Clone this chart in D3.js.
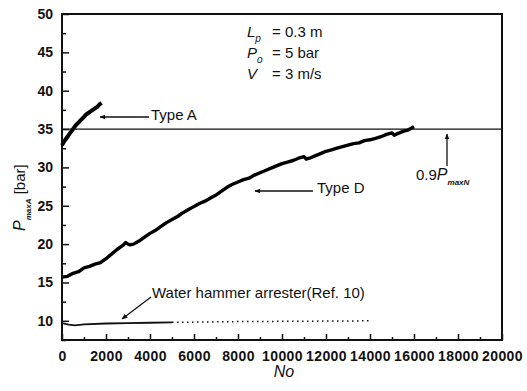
<!DOCTYPE html>
<html>
<head>
<meta charset="utf-8">
<script src="https://cdn.jsdelivr.net/npm/d3@7/dist/d3.min.js"></script>
<style>
  body { margin: 0; background: #fff; }
  svg { display: block; font-family: "Liberation Sans", Arial, sans-serif; }
  .tick text { fill: #111; }
</style>
</head>
<body>
<div id="chart"></div>
<script>
// chart size
var width = 527;
var height = 391;
var margin = { top: 14, right: 25, bottom: 51, left: 62 };

// data
var xTicks = [0, 2000, 4000, 6000, 8000, 10000, 12000, 14000, 16000, 18000, 20000];
var yTicks = [10, 15, 20, 25, 30, 35, 40, 45, 50];

var typeA_N = [0, 100, 200, 300, 400, 500, 600, 700, 800, 900, 1000, 1100, 1200, 1300, 1400, 1500, 1600, 1700, 1800];
var typeA_P = [32.9, 33.4, 33.8, 34.2, 34.6, 35.0, 35.4, 35.7, 36.0, 36.3, 36.6, 36.9, 37.1, 37.3, 37.5, 37.7, 37.9, 38.2, 38.4];

var typeD_N = [0, 250, 500, 750, 1000, 1250, 1500, 1750, 2000, 2250, 2500, 2750, 2900, 3000, 3100, 3250,
  3500, 3750, 4000, 4250, 4500, 4750, 5000, 5250, 5500, 5750, 6000, 6250, 6500, 6750, 7000, 7250,
  7500, 7750, 8000, 8250, 8500, 8750, 9000, 9250, 9500, 9750, 10000, 10250, 10500, 10750, 11000, 11100,
  11250, 11500, 11750, 12000, 12250, 12500, 12750, 13000, 13250, 13500, 13750, 14000, 14250, 14500,
  14750, 15000, 15100, 15250, 15500, 15750, 16000];
var typeD_P = [15.7, 15.8, 16.2, 16.4, 16.9, 17.1, 17.4, 17.6, 18.1, 18.7, 19.3, 19.8, 20.2, 20.0, 19.9, 20.0,
  20.4, 20.9, 21.4, 21.8, 22.3, 22.8, 23.2, 23.6, 24.1, 24.5, 24.9, 25.3, 25.6, 26.0, 26.4, 26.9,
  27.4, 27.8, 28.1, 28.4, 28.6, 29.0, 29.3, 29.6, 29.9, 30.2, 30.5, 30.7, 30.9, 31.2, 31.4, 31.1,
  31.2, 31.5, 31.8, 32.1, 32.3, 32.5, 32.7, 32.9, 33.1, 33.2, 33.5, 33.6, 33.8, 34.0,
  34.3, 34.5, 34.2, 34.4, 34.7, 34.9, 35.3];

var arrester_N = [0, 300, 600, 1000, 2000, 3000, 4000, 5000];
var arrester_P = [9.7, 9.5, 9.4, 9.55, 9.65, 9.7, 9.75, 9.8];
var arresterRef_N = [5000, 8000, 11000, 14000];
var arresterRef_P = [9.8, 9.9, 9.95, 10.0];

var limitP = 35;

function zip(xs, ys) {
  return xs.map(function(x, i) { return [x, ys[i]]; });
}

var svg = d3.select("#chart")
  .append("svg")
  .attr("width", width)
  .attr("height", height);

var defs = svg.append("defs");
defs.append("marker")
  .attr("id", "head")
  .attr("viewBox", "0 0 10 10")
  .attr("refX", 9)
  .attr("refY", 5)
  .attr("markerWidth", 6)
  .attr("markerHeight", 6)
  .attr("markerUnits", "userSpaceOnUse")
  .attr("orient", "auto")
  .append("path")
  .attr("d", "M0,1 L10,5 L0,9 Z")
  .attr("fill", "#111");

var xScale = d3.scaleLinear()
  .domain([0, 20000])
  .range([margin.left, width - margin.right]);
var yScale = d3.scaleLinear()
  .domain([7.5, 50])
  .range([height - margin.bottom, margin.top]);

var x0 = xScale.range()[0], x1 = xScale.range()[1];
var y0 = yScale.range()[0], y1 = yScale.range()[1];

// minor ticks (inward)
svg.append("g")
  .attr("transform", "translate(0," + y0 + ")")
  .call(d3.axisBottom(xScale).tickValues(d3.range(1000, 20000, 2000)).tickSize(-3).tickFormat(""))
  .call(function(g) { g.select(".domain").remove(); });
svg.append("g")
  .attr("transform", "translate(" + x0 + ",0)")
  .call(d3.axisLeft(yScale).tickValues([7.5, 12.5, 17.5, 22.5, 27.5, 32.5, 37.5, 42.5, 47.5]).tickSize(-4).tickFormat(""))
  .call(function(g) { g.select(".domain").remove(); });

// major ticks + labels
var xAxis = svg.append("g")
  .attr("transform", "translate(0," + y0 + ")")
  .call(d3.axisBottom(xScale).tickValues(xTicks).tickSize(-6).tickPadding(11).tickFormat(d3.format("d")));
xAxis.select(".domain").remove();
xAxis.selectAll("text")
  .attr("font-size", 14)
  .attr("font-weight", "bold")
  .attr("letter-spacing", 0.4);

var yAxis = svg.append("g")
  .attr("transform", "translate(" + x0 + ",0)")
  .call(d3.axisLeft(yScale).tickValues(yTicks).tickSize(-7).tickPadding(9));
yAxis.select(".domain").remove();
yAxis.selectAll("text")
  .attr("font-size", 14)
  .attr("font-weight", "bold");

svg.selectAll(".tick line").attr("stroke", "#111").attr("stroke-width", 1.5);

// frame
svg.append("rect")
  .attr("x", x0).attr("y", y1)
  .attr("width", x1 - x0).attr("height", y0 - y1)
  .attr("fill", "none")
  .attr("stroke", "#111")
  .attr("stroke-width", 2);

var line = d3.line()
  .x(function(d) { return xScale(d[0]); })
  .y(function(d) { return yScale(d[1]); });

// 0.9 PmaxN level
svg.append("path")
  .datum([[0, limitP], [20000, limitP]])
  .attr("d", line)
  .attr("fill", "none")
  .attr("stroke", "#111")
  .attr("stroke-width", 1.3);

svg.append("path")
  .datum(zip(typeA_N, typeA_P))
  .attr("d", line)
  .attr("fill", "none")
  .attr("stroke", "#000")
  .attr("stroke-width", 4)
  .attr("stroke-linejoin", "round");

svg.append("path")
  .datum(zip(typeD_N, typeD_P))
  .attr("d", line)
  .attr("fill", "none")
  .attr("stroke", "#000")
  .attr("stroke-width", 3.4)
  .attr("stroke-linejoin", "round");

svg.append("path")
  .datum(zip(arrester_N, arrester_P))
  .attr("d", line)
  .attr("fill", "none")
  .attr("stroke", "#111")
  .attr("stroke-width", 1.8);

svg.append("path")
  .datum(zip(arresterRef_N, arresterRef_P))
  .attr("d", line)
  .attr("fill", "none")
  .attr("stroke", "#111")
  .attr("stroke-width", 1.5)
  .attr("stroke-dasharray", "1.5,3.5");

// arrows
function arrow(xa, ya, xb, yb) {
  svg.append("line")
    .attr("x1", xa).attr("y1", ya)
    .attr("x2", xb).attr("y2", yb)
    .attr("stroke", "#111")
    .attr("stroke-width", 1.3)
    .attr("marker-end", "url(#head)");
}
arrow(149, 117, 100, 117);
arrow(313, 191, 255, 191);
arrow(151, 297, 122, 319);
arrow(447, 166, 447, 134);

// labels
function label(x, y, txt) {
  return svg.append("text")
    .attr("x", x).attr("y", y)
    .attr("font-size", 15)
    .attr("fill", "#111")
    .text(txt);
}
label(151, 120, "Type A");
label(317, 193, "Type D");
label(152, 298, "Water hammer arrester(Ref. 10)");

var pmax = svg.append("text")
  .attr("x", 416).attr("y", 180)
  .attr("font-size", 15)
  .attr("fill", "#111");
pmax.append("tspan").text("0.9");
pmax.append("tspan").attr("font-style", "italic").attr("font-size", 16).text("P");
pmax.append("tspan").attr("font-style", "italic").attr("font-weight", "bold").attr("font-size", 8).attr("dy", 5).text("maxN");

// condition block
var cond = [
  { sym: "L", sub: "p", rest: "= 0.3 m", y: 37 },
  { sym: "P", sub: "o", rest: "= 5 bar", y: 58 },
  { sym: "V", sub: "", rest: "= 3 m/s", y: 79 }
];
cond.forEach(function(c) {
  var t = svg.append("text").attr("y", c.y).attr("font-size", 15).attr("fill", "#111");
  t.append("tspan").attr("x", 247).attr("font-style", "italic").text(c.sym);
  if (c.sub) {
    t.append("tspan").attr("font-style", "italic").attr("font-size", 10).attr("dy", 5).text(c.sub);
  }
  t.append("tspan").attr("x", 272).attr("dy", c.sub ? -5 : 0).text(c.rest);
});

// axis titles
svg.append("text")
  .attr("x", xScale(10000) + 2)
  .attr("y", 377)
  .attr("text-anchor", "middle")
  .attr("font-size", 16)
  .attr("font-style", "italic")
  .attr("fill", "#111")
  .text("No");

var yTitle = svg.append("text")
  .attr("transform", "translate(25,231) rotate(-90)")
  .attr("font-size", 15)
  .attr("fill", "#111");
yTitle.append("tspan").attr("font-style", "italic").attr("font-size", 16).text("P");
yTitle.append("tspan").attr("font-style", "italic").attr("font-weight", "bold").attr("font-size", 8).attr("dy", 6).text("maxA");
yTitle.append("tspan").attr("dy", -6).text("  [bar]");
</script>
</body>
</html>
